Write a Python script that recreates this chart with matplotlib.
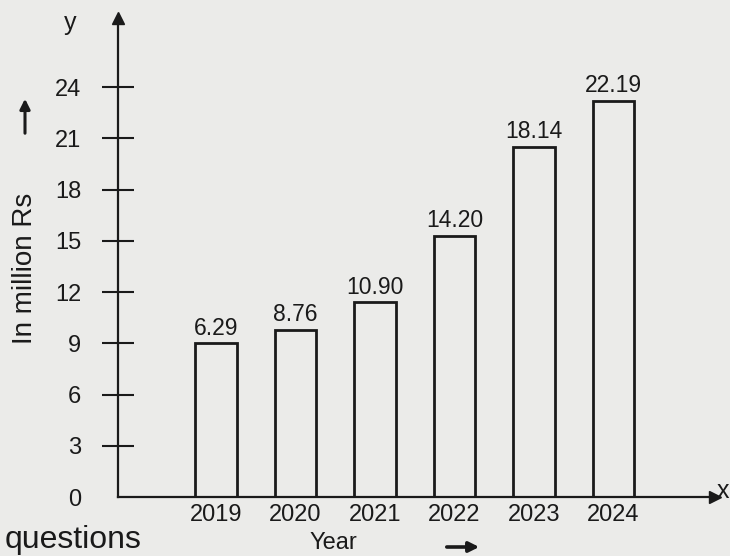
# Bar chart of yearly values in million Rs (hollow bars, arrowed axes)
import matplotlib
matplotlib.use("Agg")
import matplotlib.pyplot as plt

# Data
years = ["2019", "2020", "2021", "2022", "2023", "2024"]
bar_labels = ["6.29", "8.76", "10.90", "14.20", "18.14", "22.19"]
# heights as drawn (on the axis scale)
bar_heights = [9.0, 9.8, 11.4, 15.3, 20.5, 23.2]
y_ticks = [0, 3, 6, 9, 12, 15, 18, 21, 24]

plt.rcParams['font.family'] = ['Liberation Sans', 'DejaVu Sans']
ink = '#1a1a1a'
paper = '#ebebe9'

fig = plt.figure(figsize=(7.3, 5.56), dpi=100, facecolor=paper)
ax = fig.add_axes([118/730, 59/556, 597/730, 479/556])
ax.set_facecolor('none')

x = list(range(len(years)))
ax.bar(x, bar_heights, width=0.52, facecolor='none', edgecolor=ink, linewidth=2.0)
for xi, h, lab in zip(x, bar_heights, bar_labels):
    ax.text(xi, h + 0.2, lab, ha='center', va='bottom', fontsize=16.5, color=ink)

ax.set_xlim(-1.234, 6.28)
ax.set_ylim(0, 28.04)

# axes: only left and bottom, with arrow heads
for s in ['top', 'right']:
    ax.spines[s].set_visible(False)
for s in ['left', 'bottom']:
    ax.spines[s].set_linewidth(1.6)
    ax.spines[s].set_color(ink)
ax.plot(0, 1, '^', color=ink, markersize=9, transform=ax.transAxes, clip_on=False)
ax.plot(1, 0, '>', color=ink, markersize=9, transform=ax.transAxes, clip_on=False)

ax.set_yticks(y_ticks)
ax.set_yticklabels([str(t) for t in y_ticks])
ax.tick_params(axis='y', direction='inout', length=23, width=1.5, color=ink,
               labelsize=17, labelcolor=ink, pad=15)
ax.yaxis.get_major_ticks()[0].tick1line.set_visible(False)
ax.set_xticks(x)
ax.set_xticklabels(years)
ax.tick_params(axis='x', length=0, labelsize=17, labelcolor=ink, pad=5)

# axis letters and titles
fig.text(70/730, 1 - 23/556, 'y', fontsize=18, color=ink, ha='center', va='center')
fig.text(723/730, 1 - 491/556, 'x', fontsize=18, color=ink, ha='center', va='center')
fig.text(25/730, 1 - 268/556, 'In million Rs', fontsize=20, color=ink,
         rotation=90, ha='center', va='center')
fig.text(333/730, 1 - 543/556, 'Year', fontsize=17, color=ink, ha='center', va='center')
fig.text(5/730, 1/556, 'questions', fontsize=23, color=ink, ha='left', va='bottom')

# hand arrows next to the axis titles
ax.annotate('', xy=(25/730, 1 - 96/556), xytext=(25/730, 1 - 136/556),
            xycoords='figure fraction', textcoords='figure fraction',
            arrowprops=dict(arrowstyle='-|>,head_length=0.6,head_width=0.3',
                            color=ink, lw=2.2))
ax.annotate('', xy=(482/730, 1 - 547/556), xytext=(444/730, 1 - 547/556),
            xycoords='figure fraction', textcoords='figure fraction',
            arrowprops=dict(arrowstyle='-|>,head_length=0.6,head_width=0.3',
                            color=ink, lw=2.6))

fig.savefig('out.png', dpi=100, facecolor=paper)
